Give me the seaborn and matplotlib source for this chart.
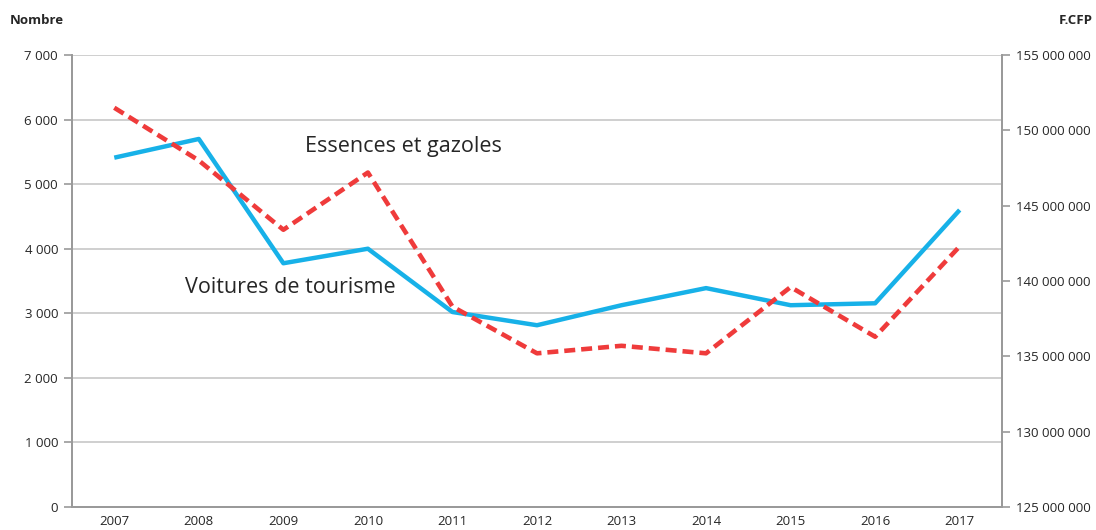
import matplotlib
matplotlib.use("Agg")
import matplotlib.pyplot as plt
import numpy as np
import pandas as pd
import seaborn as sns
from matplotlib.ticker import FuncFormatter, FixedLocator

years = [2007, 2008, 2009, 2010, 2011, 2012, 2013, 2014, 2015, 2016, 2017]
voitures = [5410, 5700, 3775, 4000, 3020, 2815, 3125, 3390, 3125, 3155, 4600]
essences = [151.5e6, 148.0e6, 143.4e6, 147.2e6, 138.3e6, 135.2e6,
            135.7e6, 135.2e6, 139.6e6, 136.3e6, 142.3e6]

BLUE = "#17b1e8"
RED = "#ef3b3b"
GREY = "#9a9a9a"

sns.set_style("white")
plt.rcParams["font.family"] = ["Open Sans", "DejaVu Sans"]

df = pd.DataFrame({"annee": years, "voitures": voitures, "essences": essences})


def spaced(v, pos):
    return f"{int(round(v)):,}".replace(",", " ")


fig = plt.figure(figsize=(10.96, 5.30), dpi=100)
ax = fig.add_axes([0.0657, 0.0434, 0.8485, 0.8528])
ax2 = ax.twinx()

sns.lineplot(data=df, x="annee", y="voitures", ax=ax, color=BLUE,
             linewidth=3.2, solid_capstyle="butt", zorder=3)
sns.lineplot(data=df, x="annee", y="essences", ax=ax2, color=RED,
             linewidth=3.3, linestyle=(0, (2.4, 1.3)), zorder=3)

ax.set_xlim(years[0] - 0.5, years[-1] + 0.5)
ax.set_ylim(0, 7000)
ax2.set_ylim(125e6, 155e6)
ax.set_yticks(np.arange(0, 7001, 1000))
ax2.set_yticks(np.arange(125e6, 155e6 + 1, 5e6))
ax.yaxis.set_major_formatter(FuncFormatter(spaced))
ax2.yaxis.set_major_formatter(FuncFormatter(spaced))

ax.set_xticks(years)
ax.set_xticklabels([str(y) for y in years])
ax.xaxis.set_minor_locator(FixedLocator(np.arange(years[0] - 0.5, years[-1] + 1, 1)))
ax.tick_params(axis="x", which="major", length=0, pad=6, labelsize=9.5)
ax.tick_params(axis="x", which="minor", length=5, color=GREY, width=1.2, direction="out")
ax.tick_params(axis="y", length=6, color=GREY, width=1.2, labelsize=9.5, pad=4)
ax2.tick_params(axis="y", length=6, color=GREY, width=1.2, labelsize=9.5, pad=4)

ax.grid(axis="y", color="#cccccc", linewidth=1.3)
ax.set_axisbelow(True)
ax.set_xlabel("")
ax.set_ylabel("")
ax2.set_ylabel("")

for a in (ax, ax2):
    a.spines["top"].set_visible(False)
    for s in ("left", "right", "bottom"):
        a.spines[s].set_color(GREY)
        a.spines[s].set_linewidth(1.3)

ax.text(0.251, 0.797, "Essences et gazoles", transform=ax.transAxes,
        fontsize=15.5, ha="left", va="center")
ax.text(0.121, 0.486, "Voitures de tourisme", transform=ax.transAxes,
        fontsize=15.5, ha="left", va="center")

fig.text(0.009, 0.962, "Nombre", fontsize=9.5, fontweight="bold", ha="left", va="center")
fig.text(0.997, 0.962, "F.CFP", fontsize=9.5, fontweight="bold", ha="right", va="center")

fig.savefig("out.png", dpi=100)
